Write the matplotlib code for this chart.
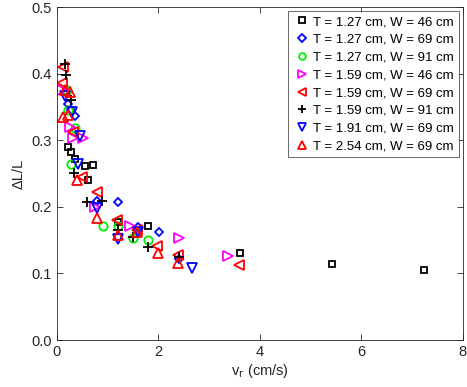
"""Relative length change vs. retreat velocity for the different T/W sheets."""

import matplotlib
matplotlib.use('Agg')
import matplotlib.pyplot as plt


OUT_PNG = 'out.png'
FIG_W_PX, FIG_H_PX, DPI = 467, 387, 100

# T = 1.27 cm, W = 46 cm
sq_x = [0.22, 0.28, 0.36, 0.55, 0.71, 0.61, 1.21, 1.80, 3.61, 5.42, 7.24]
sq_y = [0.290, 0.282, 0.272, 0.262, 0.263, 0.240, 0.177, 0.172, 0.130, 0.114, 0.105]

# T = 1.27 cm, W = 69 cm
dia_x = [0.18, 0.22, 0.28, 0.36, 0.79, 1.21, 1.60, 2.01, 2.41]
dia_y = [0.372, 0.355, 0.346, 0.336, 0.209, 0.207, 0.170, 0.162, 0.122]

# T = 1.27 cm, W = 91 cm
circ_x = [0.20, 0.22, 0.36, 0.27, 0.90, 1.21, 1.50, 1.80]
circ_y = [0.375, 0.345, 0.318, 0.265, 0.171, 0.171, 0.153, 0.150]

# T = 1.59 cm, W = 46 cm
rtri_x = [0.09, 0.26, 0.32, 0.52, 0.74, 1.44, 2.41, 3.38]
rtri_y = [0.375, 0.320, 0.303, 0.304, 0.200, 0.172, 0.154, 0.126]

# T = 1.59 cm, W = 69 cm
ltri_x = [0.12, 0.09, 0.32, 0.49, 0.79, 1.18, 1.58, 1.98, 2.39, 3.59]
ltri_y = [0.410, 0.386, 0.313, 0.245, 0.222, 0.181, 0.165, 0.141, 0.128, 0.112]

# T = 1.59 cm, W = 91 cm
plus_x = [0.15, 0.18, 0.28, 0.33, 0.60, 0.89, 1.20, 1.50, 1.79, 2.40]
plus_y = [0.415, 0.398, 0.360, 0.251, 0.208, 0.209, 0.166, 0.155, 0.139, 0.124]

# T = 1.91 cm, W = 69 cm
dtri_x = [0.16, 0.29, 0.41, 0.45, 0.78, 1.20, 1.60, 2.67]
dtri_y = [0.367, 0.343, 0.264, 0.306, 0.198, 0.152, 0.163, 0.108]

# T = 2.54 cm, W = 69 cm
utri_x = [0.16, 0.25, 0.12, 0.22, 0.40, 0.78, 1.20, 1.58, 2.00, 2.39]
utri_y = [0.375, 0.372, 0.335, 0.338, 0.240, 0.184, 0.158, 0.163, 0.131, 0.116]

SERIES = [
    (sq_x, sq_y, 's', 'black', 4.8, 'T = 1.27 cm, W = 46 cm'),
    (dia_x, dia_y, 'D', 'blue', 4.5, 'T = 1.27 cm, W = 69 cm'),
    (circ_x, circ_y, 'o', '#00ee00', 6.0, 'T = 1.27 cm, W = 91 cm'),
    (rtri_x, rtri_y, '>', 'magenta', 6.5, 'T = 1.59 cm, W = 46 cm'),
    (ltri_x, ltri_y, '<', 'red', 6.5, 'T = 1.59 cm, W = 69 cm'),
    (plus_x, plus_y, '+', 'black', 6.5, 'T = 1.59 cm, W = 91 cm'),
    (dtri_x, dtri_y, 'v', 'blue', 6.5, 'T = 1.91 cm, W = 69 cm'),
    (utri_x, utri_y, '^', 'red', 6.5, 'T = 2.54 cm, W = 69 cm'),
]


def main():
    plt.rcParams['font.family'] = ['Liberation Sans', 'DejaVu Sans']
    fig = plt.figure(figsize=(FIG_W_PX / DPI, FIG_H_PX / DPI), dpi=DPI)
    ax = fig.add_axes([0.122, 0.1214, 0.869, 0.860])

    for xs, ys, marker, color, size, label in SERIES:
        ax.plot(xs, ys, linestyle='none', marker=marker, markersize=size,
                markerfacecolor='none', markeredgecolor=color,
                markeredgewidth=1.3, label=label)

    ax.set_xlim(0, 8)
    ax.set_ylim(0, 0.5)
    ax.set_xticks([0, 2, 4, 6, 8])
    ax.set_yticks([0, 0.1, 0.2, 0.3, 0.4, 0.5])
    ax.tick_params(direction='in', top=True, right=True, labelsize=10.5,
                   colors='#262626', length=4, width=0.6)
    for spine in ax.spines.values():
        spine.set_color('#262626')
        spine.set_linewidth(0.6)

    ax.set_xlabel('v$_\\mathrm{r}$ (cm/s)', fontsize=10.5, color='#262626', labelpad=2)
    ax.set_ylabel('\u0394L/L', fontsize=10.5, color='#262626', labelpad=4)

    leg = ax.legend(loc='upper right', fontsize=9.5, frameon=True, fancybox=False,
                    edgecolor='#262626', handletextpad=0.25, handlelength=1.3,
                    borderpad=0.35, labelspacing=0.42, borderaxespad=0.3,
                    markerscale=0.8)
    leg.get_frame().set_linewidth(0.6)

    fig.savefig(OUT_PNG, dpi=DPI)
    plt.close(fig)


if __name__ == '__main__':
    main()
